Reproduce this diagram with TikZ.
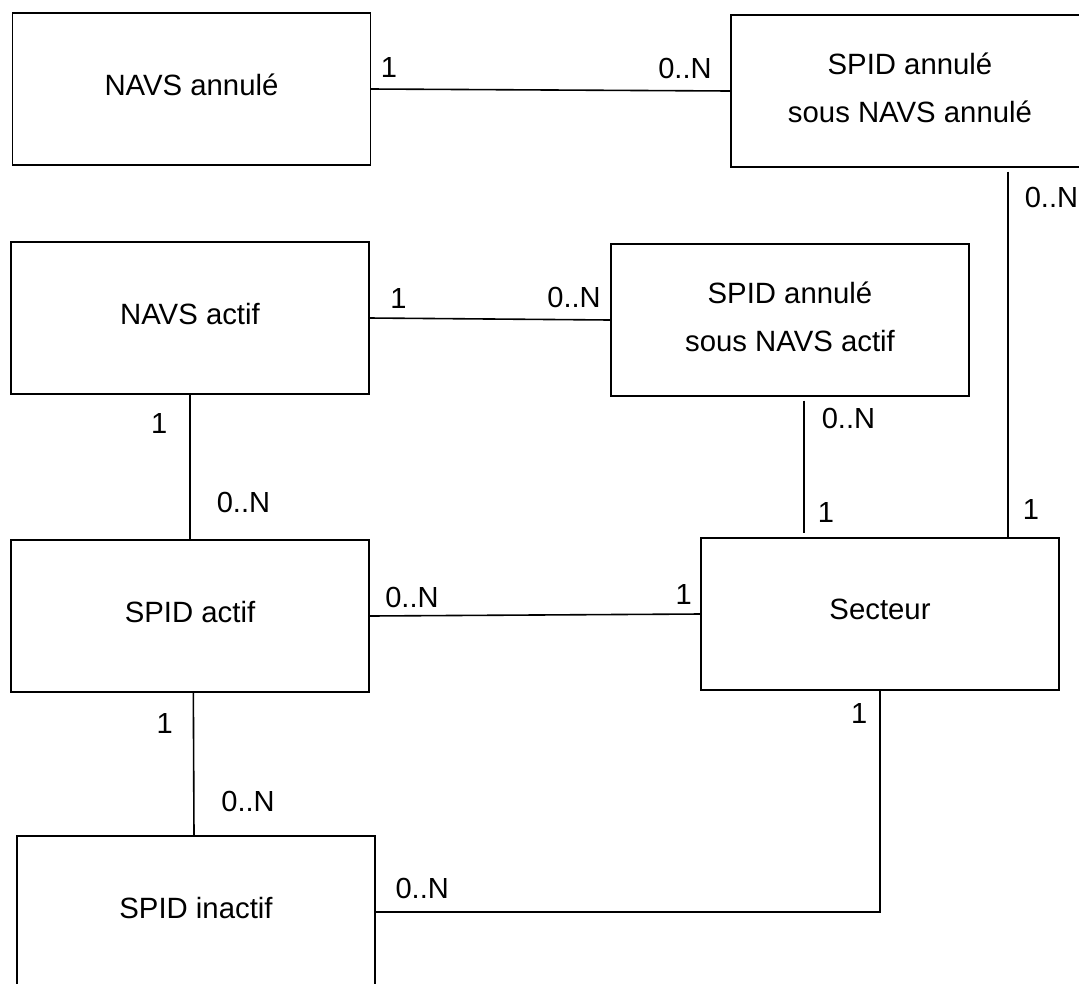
\documentclass[tikz,border=0pt]{standalone}
\usepackage{fontspec}
\setmainfont{Liberation Sans}
\begin{document}
\begin{tikzpicture}[x=0.75pt, y=-0.75pt, line width=1.2pt,
  entity/.style = {draw, line width=0.9pt, minimum width=268.5pt, minimum height=114pt, align=center, text depth=.55em, font=\fontsize{22}{36}\selectfont},
  single/.style = {entity, text depth=.65em},
  card/.style = {inner sep=0pt, font=\fontsize{21.8}{26}\selectfont}]
\useasboundingbox (0,0) rectangle (1079,983);
\node[single] (navsann) at (191.5,89) {NAVS annulé};
\node[entity] (spidann) at (910,91) {SPID annulé\\sous NAVS annulé};
\node[single] (navsact) at (190,318) {NAVS actif};
\node[entity] (spidannact) at (790,320) {SPID annulé\\sous NAVS actif};
\node[single] (spidact) at (190,616) {SPID actif};
\node[single] (secteur) at (880,614) {Secteur};
\node[single] (spidinact) at (196,912) {SPID inactif};
\draw (navsann.east) -- node[card, pos=.025, anchor=base west, yshift=8.5pt] {1} node[card, pos=.95, anchor=base east, yshift=9.5pt] {0..N} (spidann.west);
\draw (navsact.east) -- node[card, pos=.083, anchor=base west, yshift=7.5pt] {1} node[card, pos=.963, anchor=base east, yshift=9pt] {0..N} (spidannact.west);
\draw (spidact.east) -- node[card, pos=.045, anchor=base west, yshift=6.5pt] {0..N} node[card, pos=.976, anchor=base east, yshift=7pt] {1} (secteur.west);
\draw (navsact.south) -- node[card, pos=.267, anchor=base east, xshift=-16.5pt] {1} node[card, pos=.815, anchor=base west, xshift=19.5pt] {0..N} (spidact.north);
\draw ([xshift=2.5pt]spidact.south) -- node[card, pos=.283, anchor=base east, xshift=-15pt] {1} node[card, pos=.83, anchor=base west, xshift=20pt] {0..N} ([xshift=-1.5pt]spidinact.north);
\draw[shorten <=3pt, shorten >=3pt] ([xshift=10.5pt]spidannact.south) -- node[card, pos=.225, anchor=base west, xshift=12.75pt] {0..N} node[card, pos=.894, anchor=base west, xshift=9.75pt] {1} ([xshift=10.5pt]spidannact.south |- secteur.north);
\draw[shorten <=3pt] ([xshift=73.5pt]spidann.south) -- node[card, pos=.108, anchor=base west, xshift=12pt] {0..N} node[card, pos=.951, anchor=base west, xshift=10.5pt] {1} ([xshift=73.5pt]spidann.south |- secteur.north);
\draw (secteur.south) |- node[card, pos=.074, anchor=base east, xshift=-9pt] {1} node[card, pos=.981, anchor=base west, yshift=10.5pt] {0..N} (spidinact.east);
\end{tikzpicture}
\end{document}
